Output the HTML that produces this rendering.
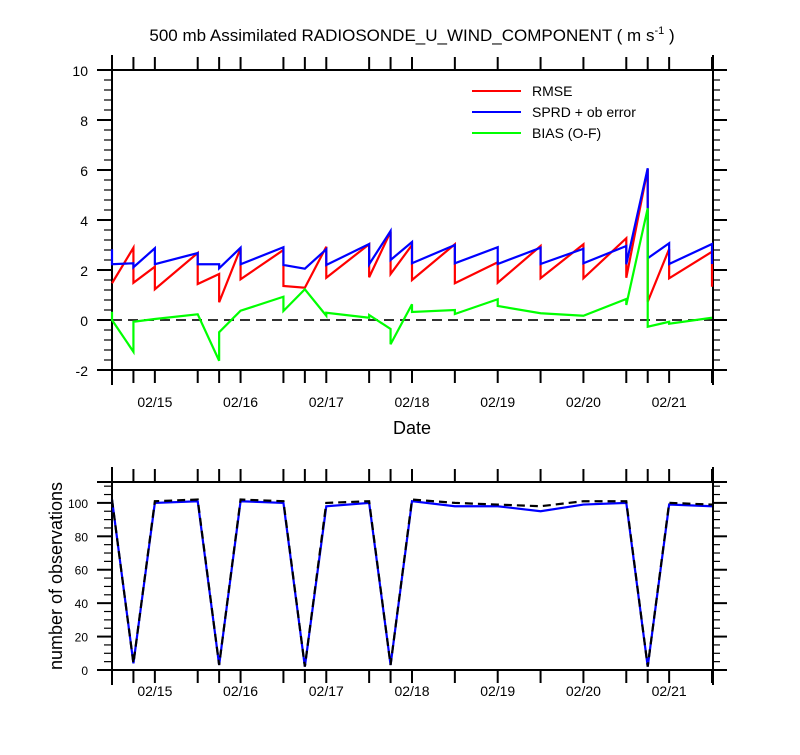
<!DOCTYPE html>
<html><head><meta charset="utf-8"><style>
body{margin:0;background:#fff;}
svg text{font-family:"Liberation Sans",Helvetica,sans-serif;fill:#000;}
</style></head><body>
<svg id="chart" width="800" height="750" xmlns="http://www.w3.org/2000/svg"></svg>
<script>
// hours relative to 02/15 00Z
const rmseT=[-12,-6,-6,0,0,12,12,18,18,24,24,36,36,42,48,48,60,60,66,66,72,72,84,84,96,96,108,108,120,120,132,132,138,138,144,144,156,156];
const rmseV=[1.47,2.89,1.49,2.13,1.23,2.68,1.44,1.84,0.71,2.87,1.63,2.8,1.36,1.29,2.93,1.69,3.03,1.71,3.53,1.84,3.0,1.6,3.03,1.47,2.31,1.49,2.96,1.67,3.03,1.67,3.27,1.69,6.04,0.73,2.84,1.67,2.73,1.33];
const sprdT=[-12,-12,-6,-6,0,0,12,12,18,18,24,24,36,36,42,48,48,60,60,66,66,72,72,84,84,96,96,108,108,120,120,132,132,138,138,144,144,156,156];
const sprdV=[2.83,2.23,2.27,2.11,2.87,2.23,2.68,2.23,2.23,2.07,2.89,2.23,2.91,2.2,2.05,2.83,2.2,3.04,2.23,3.56,2.4,3.12,2.27,3.0,2.27,2.91,2.24,2.89,2.24,2.85,2.27,2.96,2.23,6.07,2.47,3.07,2.24,3.04,2.24];
const biasT=[-12,-12,-6,-6,0,12,18,18,24,36,36,42,48,48,60,60,66,66,72,72,84,84,96,96,108,120,132,132,138,138,144,144,156];
const biasV=[0.33,0.0,-1.27,-0.07,0.04,0.23,-1.63,-0.49,0.37,0.93,0.36,1.23,0.17,0.29,0.09,0.2,-0.36,-0.97,0.63,0.32,0.4,0.24,0.83,0.56,0.27,0.17,0.84,0.6,4.47,-0.27,-0.07,-0.15,0.09];
const obsT=[-12,-6,0,12,18,24,36,42,48,60,66,72,84,96,108,120,132,138,144,156];
const obsUsed=[102,4,100,101,3,101,100,2,98,100,3,101,98,98,95,99,100,2,99,98];
const obsTotal=[102,4,101,102,3,102,101,2,100,101,3,102,100,99,98,101,101,2,100,99];
const dayLabels=["02/15","02/16","02/17","02/18","02/19","02/20","02/21"];
const dayHours=[0,24,48,72,96,120,144];
const topTicks=[-2,0,2,4,6,8,10];
const botTicks=[0,20,40,60,80,100];

const svg=document.getElementById('chart');
const NS='http://www.w3.org/2000/svg';
function el(tag,attrs,parent){const e=document.createElementNS(NS,tag);for(const k in attrs)e.setAttribute(k,attrs[k]);(parent||svg).appendChild(e);return e;}
const X0=112,X1=712,T0=-12,T1=156;
const xs=t=>X0+(t-T0)/(T1-T0)*(X1-X0);
const yTop=v=>370-(v+2)/12*300;
const yBot=v=>670-v/112.5*188;

function txt(x,y,s,size,anchor,name){const t=el('text',{x:x,y:y,'font-size':size,'text-anchor':anchor||'middle'});t.textContent=s;return t;}

// title
const ti=el('text',{x:412,y:41,'font-size':17,'text-anchor':'middle'});


ti.innerHTML='500 mb Assimilated RADIOSONDE_U_WIND_COMPONENT ( m s<tspan dy="-7" font-size="11">-1</tspan><tspan dy="7"> )</tspan>';

function frame(top,bot,name){
  const g=el('g',{stroke:'#000','stroke-width':2,fill:'none'});
  
  
  el('line',{x1:97,y1:top,x2:727,y2:top},g);
  el('line',{x1:97,y1:bot,x2:727,y2:bot},g);
  el('line',{x1:X0,y1:top-15,x2:X0,y2:bot+15},g);
  el('line',{x1:X1+1,y1:top-15,x2:X1+1,y2:bot+15},g);
  obsT.forEach(t=>{el('line',{x1:xs(t),y1:top,x2:xs(t),y2:top-13},g);el('line',{x1:xs(t),y1:bot,x2:xs(t),y2:bot+13},g);});
  return g;
}
// top panel
const gt=frame(70,370,'top-panel-frame');
for(let v=-2;v<=10.001;v+=0.4){const y=yTop(v);const maj=Math.abs(v/2-Math.round(v/2))<0.01;
  el('line',{x1:X0-(maj?15:8),y1:y,x2:X0,y2:y,'stroke-width':maj?2:1.2},gt);
  el('line',{x1:X1,y1:y,x2:X1+(maj?15:8),y2:y,'stroke-width':maj?2:1.2},gt);}
topTicks.forEach(v=>txt(88,yTop(v)+6,String(v),14,'end','y-tick-label'));
dayHours.forEach((h,i)=>txt(xs(h),407,dayLabels[i],14,'middle','x-tick-label'));
txt(412,434,'Date',18,'middle','x-axis-title');
const zl=el('line',{x1:X0,y1:yTop(0),x2:X1,y2:yTop(0),stroke:'#333','stroke-width':2,'stroke-dasharray':'10,6'});



function series(T,V,yf,color,name,dash){
  const p=el('polyline',{points:T.map((t,i)=>xs(t)+','+yf(V[i])).join(' '),fill:'none',stroke:color,'stroke-width':2.2,'stroke-linejoin':'miter'});
  if(dash)p.setAttribute('stroke-dasharray',dash);
  
  
}
series(rmseT,rmseV,yTop,'#ff0000','rmse-line');
series(sprdT,sprdV,yTop,'#0000ff','sprd-line');
series(biasT,biasV,yTop,'#00ff00','bias-line');

// legend
[['RMSE','#ff0000',91],['SPRD + ob error','#0000ff',112],['BIAS (O-F)','#00ff00',133]].forEach(([s,c,y])=>{
  const l=el('line',{x1:472,y1:y,x2:521,y2:y,stroke:c,'stroke-width':2});
  
  
  txt(532,y+5,s,14,'start','legend-entry');
});

// bottom panel
const gb=frame(482,670,'bottom-panel-frame');
for(let v=0;v<=110;v+=5){const y=yBot(v);const maj=v%20===0;
  el('line',{x1:X0-(maj?15:8),y1:y,x2:X0,y2:y,'stroke-width':maj?2:1.2},gb);
  el('line',{x1:X1,y1:y,x2:X1+(maj?15:8),y2:y,'stroke-width':maj?2:1.2},gb);}
botTicks.forEach(v=>txt(88,yBot(v)+5,String(v),12,'end','y-tick-label-bottom'));
dayHours.forEach((h,i)=>txt(xs(h),696,dayLabels[i],14,'middle','x-tick-label-bottom'));
const yt=txt(0,0,'number of observations',18,'middle','y-axis-title-bottom');
yt.setAttribute('transform','translate(62,576) rotate(-90)');
series(obsT,obsUsed,yBot,'#0000ff','obs-used-line');
series(obsT,obsTotal,yBot,'#000000','obs-total-line','8,5');
</script>
</body></html>
